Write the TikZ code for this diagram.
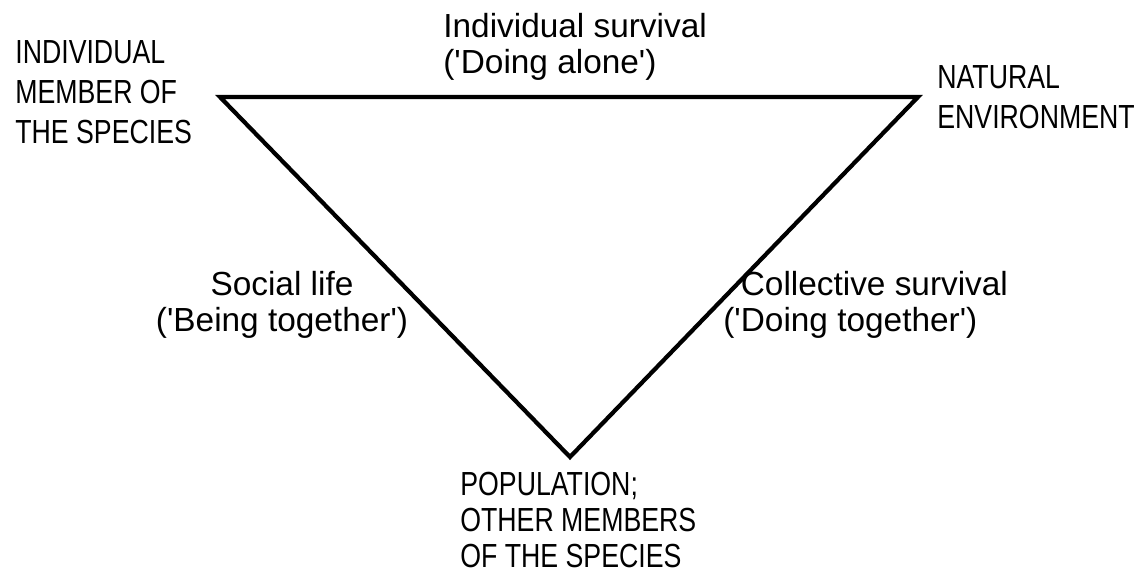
\documentclass[tikz,border=0pt]{standalone}
\usepackage{fontspec}
\setmainfont{Liberation Sans}
\newfontfamily\capfont[FakeStretch=0.8]{Liberation Sans}
\newcommand{\q}{\textquotesingle}
\begin{document}
\begin{tikzpicture}[
    x=0.02cm, y=-0.02cm,
    caplabel/.style={inner sep=0pt, align=left, font=\capfont\fontsize{19}{22.7}\selectfont},
    smalllabel/.style={inner sep=0pt, font=\fontsize{19}{20.5}\selectfont},
    edge/.style={line width=2.4pt, miter limit=20},
]
\useasboundingbox (0,0) rectangle (1143,575);

\coordinate (self) at (220,97);
\coordinate (env)  at (918,97);
\coordinate (pop)  at (570,457);

\node[caplabel, anchor=north west] (selflbl) at (15,40) {INDIVIDUAL\\MEMBER OF\\THE SPECIES};
\node[caplabel, anchor=north west] (envlbl) at (937,65) {NATURAL\\ENVIRONMENT};
\node[caplabel, anchor=north west, font=\capfont\fontsize{19}{20.5}\selectfont] (poplbl) at (460,472) {POPULATION;\\OTHER MEMBERS\\OF THE SPECIES};

\node[smalllabel, align=left, anchor=north west] (alone) at (443,13) {Individual survival\\(\q Doing alone\q)};
\node[smalllabel, align=center, anchor=north] (social) at (282,271) {Social life\\(\q Being together\q)};
\node[smalllabel, align=left, anchor=north west] (collective) at (723,271) {\phantom{(\q}Collective survival\\(\q Doing together\q)};

\draw[edge] (self) -- (env) -- (pop) -- cycle;
\end{tikzpicture}
\end{document}
